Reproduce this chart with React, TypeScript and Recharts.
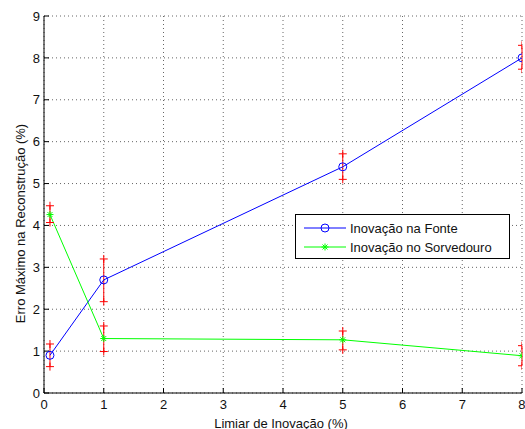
import React from 'react';
import {
  ComposedChart,
  Line,
  Scatter,
  XAxis,
  YAxis,
  CartesianGrid,
  ReferenceLine,
  Legend,
} from 'recharts';

const limiares = [0.1, 1, 5, 8];
const fonte = [0.9, 2.7, 5.4, 8.0];
const fonteMin = [0.63, 2.18, 5.1, 7.73];
const fonteMax = [1.17, 3.2, 5.71, 8.3];
const sorvedouro = [4.26, 1.3, 1.27, 0.89];
const sorvedouroMin = [4.07, 0.99, 1.03, 0.65];
const sorvedouroMax = [4.47, 1.6, 1.48, 1.13];
const xTicks = [0, 1, 2, 3, 4, 5, 6, 7, 8];
const yTicks = [0, 1, 2, 3, 4, 5, 6, 7, 8, 9];

const rows = limiares.map((x, i) => ({ x, fonte: fonte[i], sorvedouro: sorvedouro[i] }));

const bars = [
  ...limiares.map((x, i) => ({ x, lo: fonteMin[i], hi: fonteMax[i] })),
  ...limiares.map((x, i) => ({ x, lo: sorvedouroMin[i], hi: sorvedouroMax[i] })),
];
const barEnds = bars.flatMap((b) => [{ x: b.x, y: b.lo }, { x: b.x, y: b.hi }]);

const FONT = 'Liberation Sans, Arial, Helvetica, sans-serif';
const FS = 13;
const tickStyle = { fontSize: FS, fill: '#111', fontFamily: FONT };

const Plus = (props: any) => {
  const { cx, cy } = props;
  if (cx == null || cy == null) return <g />;
  return (
    <g stroke="#ff0000" strokeWidth={1}>
      <line x1={cx - 4} y1={cy} x2={cx + 4} y2={cy} />
      <line x1={cx} y1={cy - 4} x2={cx} y2={cy + 4} />
    </g>
  );
};

const Circle = (props: any) => {
  const { cx, cy } = props;
  if (cx == null || cy == null) return <g />;
  return <circle cx={cx} cy={cy} r={4} fill="none" stroke="#0000ff" strokeWidth={1} />;
};

const Star = (props: any) => {
  const { cx, cy } = props;
  if (cx == null || cy == null) return <g />;
  const r = 3.5;
  const d = r * 0.7071;
  return (
    <g stroke="#00ff00" strokeWidth={1}>
      <line x1={cx - r} y1={cy} x2={cx + r} y2={cy} />
      <line x1={cx} y1={cy - r} x2={cx} y2={cy + r} />
      <line x1={cx - d} y1={cy - d} x2={cx + d} y2={cy + d} />
      <line x1={cx - d} y1={cy + d} x2={cx + d} y2={cy - d} />
    </g>
  );
};

const YTitle = (props: any) => {
  const vb = props.viewBox || {};
  const x = (vb.x || 0) + 20;
  const y = (vb.y || 0) + (vb.height || 0) / 2 + 19;
  return (
    <text
      x={x}
      y={y}
      transform={`rotate(-90 ${x} ${y})`}
      textAnchor="middle"
      dominantBaseline="central"
      fontSize={FS}
      fontFamily={FONT}
      fill="#111"
    >
      Erro Máximo na Reconstrução (%)
    </text>
  );
};

const XTitle = (props: any) => {
  const vb = props.viewBox || {};
  const x = (vb.x || 0) + (vb.width || 0) / 2 - 2;
  return (
    <text x={x} y={423} textAnchor="middle" dominantBaseline="central" fontSize={FS} fontFamily={FONT} fill="#111">
      Limiar de Inovação (%)
    </text>
  );
};

const LegendBox = () => (
  <div
    style={{
      position: 'absolute',
      left: 295,
      top: 214,
      width: 213,
      height: 43,
      border: '1px solid #000',
      background: '#fff',
    }}
  >
    <svg width={213} height={43} style={{ position: 'absolute', left: 0, top: 0 }}>
      <line x1={8} y1={13} x2={50} y2={13} stroke="#0000ff" />
      <circle cx={29} cy={13} r={4} fill="none" stroke="#0000ff" />
      <line x1={8} y1={32} x2={50} y2={32} stroke="#00ff00" />
      <Star cx={29} cy={32} />
      <text x={54} y={13} dominantBaseline="central" fontSize={FS} fontFamily={FONT} fill="#111">Inovação na Fonte</text>
      <text x={54} y={32} dominantBaseline="central" fontSize={FS} fontFamily={FONT} fill="#111">Inovação no Sorvedouro</text>
    </svg>
  </div>
);

export default function App() {
  return (
    <div style={{ position: 'absolute', left: 0, top: 0, width: 525, height: 429, background: '#fff' }}>
      <ComposedChart
        width={525}
        height={429}
        data={rows}
        margin={{ top: 16, right: 3, bottom: 0, left: 0 }}
      >
        <CartesianGrid stroke="#666" strokeDasharray="1 3" />
        <XAxis
          dataKey="x"
          type="number"
          domain={[0, 8]}
          ticks={xTicks}
          allowDataOverflow
          height={36}
          stroke="#000"
          tickSize={-5}
          tickMargin={12}
          tick={tickStyle}
          label={<XTitle />}
        />
        <XAxis
          xAxisId="top"
          orientation="top"
          dataKey="x"
          type="number"
          domain={[0, 8]}
          ticks={xTicks}
          height={0}
          stroke="#000"
          tickSize={-5}
          tick={false}
        />
        <YAxis
          type="number"
          domain={[0, 9]}
          ticks={yTicks}
          width={44}
          stroke="#000"
          tickSize={-5}
          tickMargin={9}
          tick={tickStyle}
          label={<YTitle />}
        />
        <YAxis
          yAxisId="right"
          orientation="right"
          type="number"
          domain={[0, 9]}
          ticks={yTicks}
          width={0}
          stroke="#000"
          tickSize={-5}
          tick={false}
        />
        {bars.map((b, i) => (
          <ReferenceLine
            key={`bar-${i}`}
            segment={[{ x: b.x, y: b.lo }, { x: b.x, y: b.hi }]}
            stroke="#ff0000"
            strokeWidth={1}
            ifOverflow="visible"
          />
        ))}
        <Scatter data={barEnds} dataKey="y" shape={<Plus />} isAnimationActive={false} legendType="none" />
        <Line
          dataKey="fonte"
          stroke="#0000ff"
          strokeWidth={1}
          dot={<Circle />}
          activeDot={false}
          isAnimationActive={false}
        />
        <Line
          dataKey="sorvedouro"
          stroke="#00ff00"
          strokeWidth={1}
          dot={<Star />}
          activeDot={false}
          isAnimationActive={false}
        />
        <Legend content={() => null} />
      </ComposedChart>
      <LegendBox />
    </div>
  );
}
